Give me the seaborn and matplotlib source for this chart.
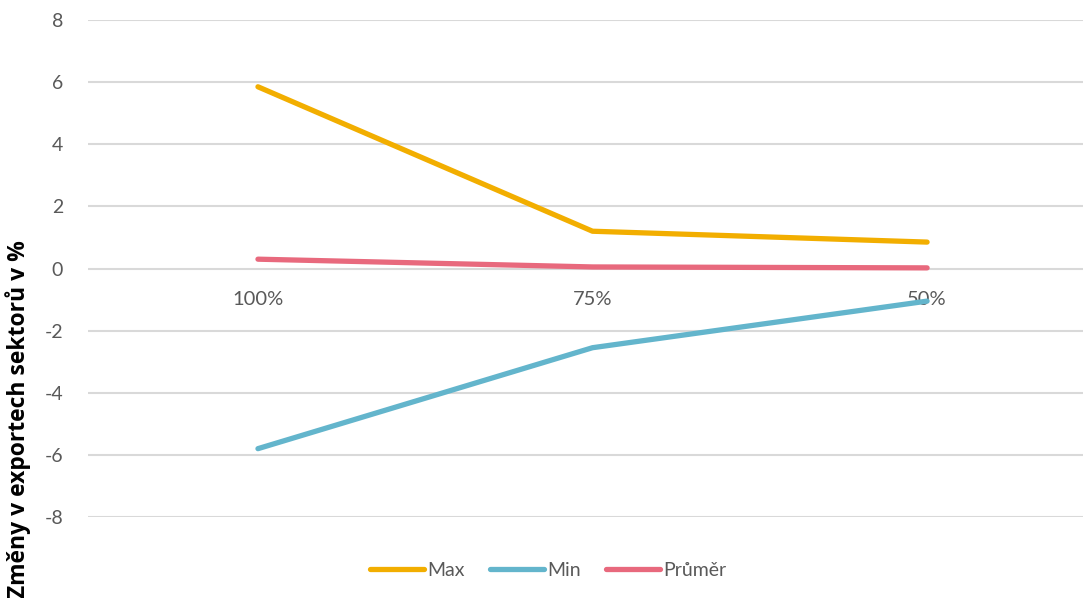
import matplotlib
matplotlib.use("Agg")
import matplotlib.pyplot as plt
import pandas as pd
import seaborn as sns

# Data
categories = ["100%", "75%", "50%"]
max_vals = [5.85, 1.2, 0.85]
min_vals = [-5.8, -2.55, -1.05]
avg_vals = [0.3, 0.05, 0.02]
series_names = ["Max", "Min", "Průměr"]
colors = ["#F2AE00", "#63B5CC", "#E8697D"]

rows = []
for name, vals in zip(series_names, [max_vals, min_vals, avg_vals]):
    for c, v in zip(categories, vals):
        rows.append({"scenario": c, "value": v, "series": name})
df = pd.DataFrame(rows)

sns.set_theme(style="white")
plt.rcParams['font.family'] = ['Lato', 'DejaVu Sans']
plt.rcParams['axes.unicode_minus'] = False

fig = plt.figure(figsize=(10.83, 5.98), dpi=100)
ax = fig.add_axes([88 / 1083, 1 - 517 / 598, 1 - 88 / 1083, (517 - 20) / 598])

sns.lineplot(data=df, x="scenario", y="value", hue="series", palette=colors,
             sort=False, linewidth=3.8, ax=ax, legend=True)
for line in ax.lines:
    line.set_solid_capstyle('round')

ax.set_xlim(-0.508, 2.466)
ax.set_ylim(-8, 8)
ax.set_yticks(range(-8, 9, 2))
ax.yaxis.grid(True, color="#D9D9D9", linewidth=1.5)
ax.set_axisbelow(True)
for s in ax.spines.values():
    s.set_visible(False)
ax.spines['bottom'].set_position(('data', 0))
ax.tick_params(axis='y', length=0, pad=18, labelsize=14, labelcolor="#595959")
ax.tick_params(axis='x', length=0, pad=16, labelsize=14.5, labelcolor="#595959")
ax.set_xlabel("")
ax.set_ylabel("")

fig.text(18 / 1083, 1 - 240 / 598, "Změny v exportech sektorů v %", rotation=90,
         ha='center', va='top', fontsize=16.5, fontweight='bold', color="black",
         family=['Open Sans', 'DejaVu Sans'])

handles, labels = ax.get_legend_handles_labels()
ax.legend(handles, labels, loc='center', bbox_to_anchor=(548 / 1083, 1 - 570 / 598),
          bbox_transform=fig.transFigure, ncol=3, frameon=False, fontsize=14,
          handlelength=2.8, handletextpad=0.15, columnspacing=1.3,
          labelcolor="#595959")

fig.savefig("out.png", dpi=100)
